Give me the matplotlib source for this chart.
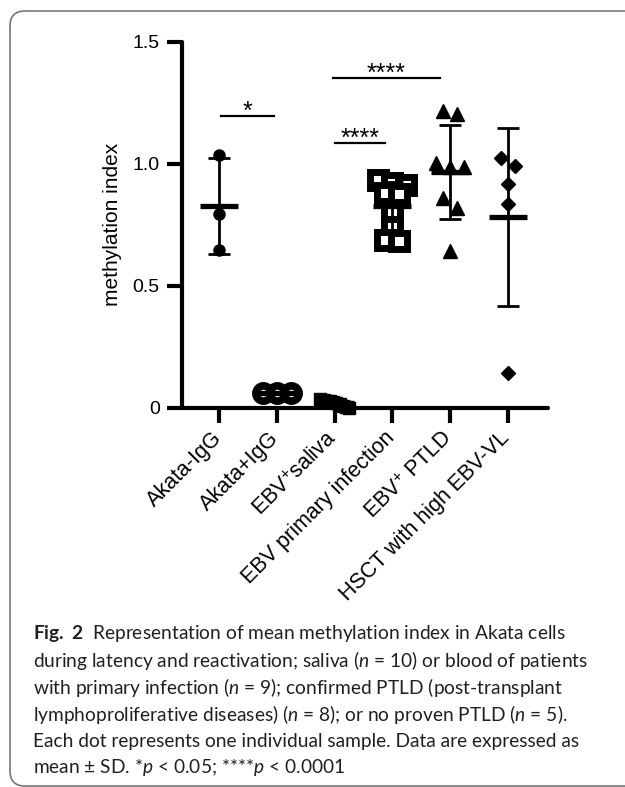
import numpy as np
import matplotlib
matplotlib.use("Agg")
import matplotlib.pyplot as plt
from matplotlib.patches import FancyBboxPatch

plt.rcParams['font.family'] = ['Liberation Sans', 'DejaVu Sans']
plt.rcParams['mathtext.fontset'] = 'custom'
plt.rcParams['mathtext.rm'] = 'Lato'
plt.rcParams['mathtext.it'] = 'Lato:italic'
plt.rcParams['mathtext.bf'] = 'Lato:bold'

# data
groups = ['Akata-IgG', 'Akata+IgG', r'EBV$^{+}$saliva', 'EBV primary infection',
          r'EBV$^{+}$ PTLD', 'HSCT with high EBV-VL']
akata_neg = [1.037, 0.796, 0.646]
akata_pos = [0.062, 0.062, 0.062]
saliva = [0.035, 0.033, 0.030, 0.028, 0.025, 0.020, 0.015, 0.010, 0.005, 0.002]
primary = [0.935, 0.920, 0.915, 0.880, 0.875, 0.800, 0.740, 0.690, 0.685]
ptld = [1.205, 1.216, 1.003, 0.987, 0.987, 0.861, 0.820, 0.643]
hsct = [1.025, 0.993, 0.916, 0.837, 0.144]
all_values = [akata_neg, akata_pos, saliva, primary, ptld, hsct]

# significance brackets: (from group, to group, height, label)
sig_bars = [(0.03, 0.95, 1.194, '*'), (2.0, 2.87, 1.086, '****'), (1.97, 3.82, 1.352, '****')]

caption = [
    r"$\mathbf{Fig.\ 2}$  Representation of mean methylation index in Akata cells",
    r"during latency and reactivation; saliva ($n$ = 10) or blood of patients",
    r"with primary infection ($n$ = 9); confirmed PTLD (post-transplant",
    r"lymphoproliferative diseases) ($n$ = 8); or no proven PTLD ($n$ = 5).",
    r"Each dot represents one individual sample. Data are expressed as",
    r"mean $\pm$ SD. *$p$ < 0.05; ****$p$ < 0.0001",
]

markers = [
    dict(marker='o', ms=8, mfc='black', mec='black'),
    dict(marker='o', ms=11, mfc='white', mec='black', mew=5.5),
    dict(marker='s', ms=8, mfc='black', mec='black'),
    dict(marker='s', ms=11.5, mfc='white', mec='black', mew=5),
    dict(marker='^', ms=9.5, mfc='black', mec='black'),
    dict(marker='D', ms=7, mfc='black', mec='black'),
]


def swarm(vals, row_h=0.05, step=0.245, max_span=0.5):
    # group close values into rows and spread each row sideways
    order = np.argsort(vals)[::-1]
    offs = np.zeros(len(vals))
    rows = []
    for i in order:
        if rows and vals[rows[-1][0]] - vals[i] < row_h:
            rows[-1].append(i)
        else:
            rows.append([i])
    for r in rows:
        n = len(r)
        if n == 1:
            continue
        d = min(step, max_span / (n - 1))
        for k, i in enumerate(r):
            offs[i] = (k - (n - 1) / 2) * d
    return offs


fig = plt.figure(figsize=(6.25, 7.87), dpi=100)
ax = fig.add_axes([182 / 625, 1 - 408 / 787, 366 / 625, 366.3 / 787])

for i, vals in enumerate(all_values):
    vals = np.array(vals)
    x = i + swarm(vals)
    ax.plot(x, vals, ls='none', clip_on=False, zorder=3, **markers[i])
    m = vals.mean()
    sd = vals.std(ddof=1)
    ax.hlines(m, i - 0.33, i + 0.33, color='black', lw=3.8, zorder=4)
    ax.errorbar(i, m, yerr=sd, fmt='none', ecolor='black', elinewidth=2,
                capsize=8, capthick=2, zorder=4)

for x0, x1, h, lab in sig_bars:
    ax.plot([x0, x1], [h, h], color='black', lw=1.6)
    ax.text((x0 + x1) / 2, h - 0.012, lab, ha='center', va='baseline', fontsize=18)

ax.set_xlim(-0.65, 5.7)
ax.set_ylim(0, 1.5)
ax.set_yticks([0, 0.5, 1.0, 1.5])
ax.set_yticklabels(['0', '0.5', '1.0', '1.5'], fontsize=14)
ax.set_xticks(range(len(groups)))
ax.set_xticklabels([])
# rotated group labels, nudged a little left of each tick
for i, g in enumerate(groups):
    ax.annotate(g, xy=(i, 0), xycoords=('data', 'axes fraction'),
                xytext=(-6, -14), textcoords='offset points', rotation=45,
                ha='right', va='top', rotation_mode='anchor', fontsize=15.5,
                annotation_clip=False)
ax.set_ylabel('methylation index', fontsize=15, labelpad=8)
for s in ['top', 'right']:
    ax.spines[s].set_visible(False)
for s in ['left', 'bottom']:
    ax.spines[s].set_linewidth(3)
    ax.spines[s].set_capstyle('round')
ax.tick_params(axis='both', direction='out', length=11, width=3, pad=5)
ax.patch.set_alpha(0)

# caption
for k, line in enumerate(caption):
    fig.text(33 / 625, 1 - (634 + k * 26.8) / 787, line, fontsize=13.8,
             family='Lato', color='#231f20', va='center', ha='left')

box = FancyBboxPatch((10 / 100, 1 / 100), 6.6, 7.75, boxstyle='round,pad=0,rounding_size=0.15',
                     transform=fig.dpi_scale_trans, fill=False, edgecolor='#777777', lw=1.2)
fig.patches.append(box)

fig.savefig('out.png', dpi=100)
